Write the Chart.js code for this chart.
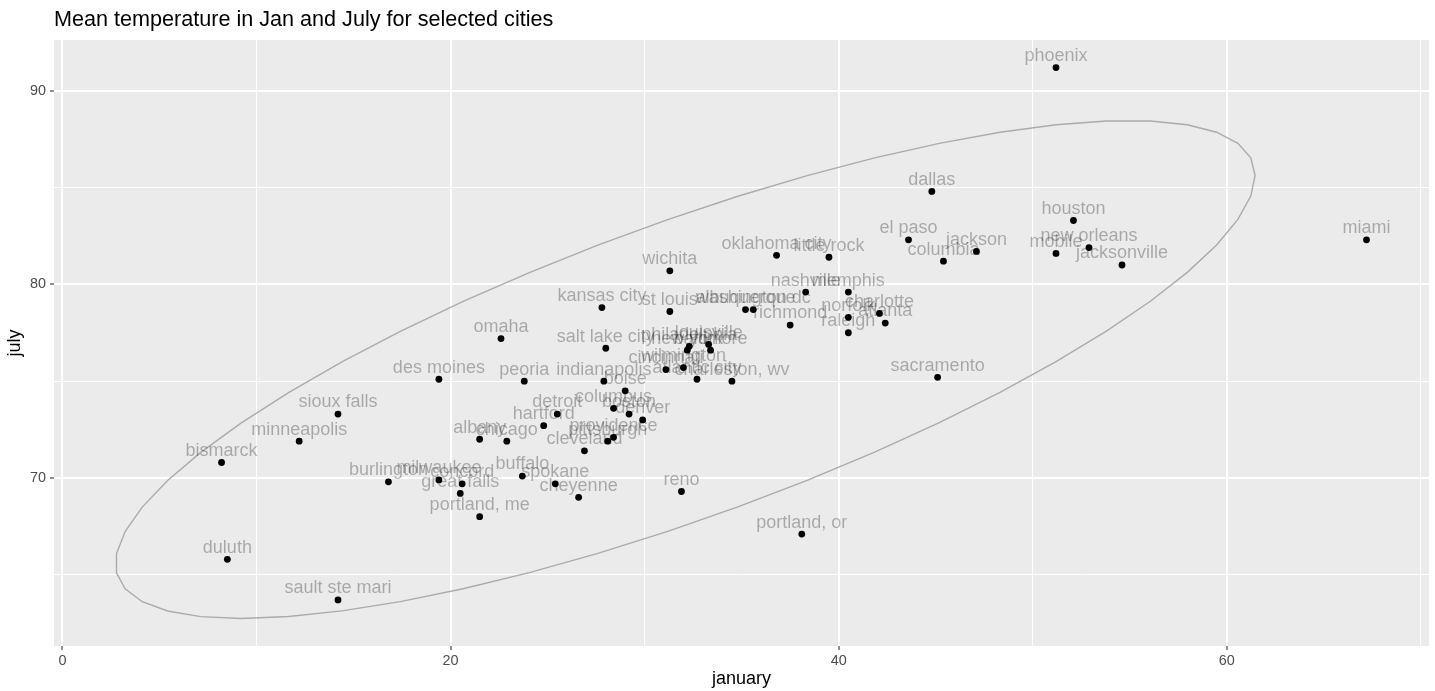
<!DOCTYPE html>
<html>
<head>
<meta charset="utf-8">
<script src="https://cdn.jsdelivr.net/npm/chart.js@4.4.0/dist/chart.umd.min.js"></script>
<style>
  html, body { margin: 0; padding: 0; background: #fff; }
  #wrap { width: 1435px; height: 691px; }
</style>
</head>
<body>
<div id="wrap"><canvas id="chart" width="1435" height="691"></canvas></div>
<script>
// City names and mean temperatures
const cities = [
  'phoenix', 'dallas', 'houston', 'miami', 'el paso', 'jackson', 'columbia', 'mobile',
  'new orleans', 'jacksonville', 'oklahoma city', 'little rock', 'wichita', 'nashville',
  'memphis', 'charlotte', 'atlanta', 'norfolk', 'raleigh', 'richmond', 'washington dc',
  'albuquerque', 'st louis', 'kansas city', 'salt lake city', 'omaha', 'des moines',
  'peoria', 'indianapolis', 'boise', 'columbus', 'boston', 'denver', 'detroit', 'hartford',
  'albany', 'chicago', 'providence', 'pittsburgh', 'cleveland', 'burlington', 'milwaukee',
  'concord', 'great falls', 'portland, me', 'bismarck', 'minneapolis', 'sioux falls',
  'duluth', 'sault ste mari', 'buffalo', 'spokane', 'cheyenne', 'reno', 'portland, or',
  'sacramento', 'charleston, wv', 'philadelphia', 'new york', 'louisville', 'baltimore',
  'wilmington', 'cincinnati', 'atlantic city'
];
const january = [
  51.2, 44.8, 52.1, 67.2, 43.6, 47.1, 45.4, 51.2,
  52.9, 54.6, 36.8, 39.5, 31.3, 38.3,
  40.5, 42.1, 42.4, 40.5, 40.5, 37.5, 35.6,
  35.2, 31.3, 27.8, 28.0, 22.6, 19.4,
  23.8, 27.9, 29.0, 28.4, 29.2, 29.9, 25.5, 24.8,
  21.5, 22.9, 28.4, 28.1, 26.9, 16.8, 19.4,
  20.6, 20.5, 21.5, 8.2, 12.2, 14.2,
  8.5, 14.2, 23.7, 25.4, 26.6, 31.9, 38.1,
  45.1, 34.5, 32.3, 32.2, 33.3, 33.4,
  32.0, 31.1, 32.7
];
const july = [
  91.2, 84.8, 83.3, 82.3, 82.3, 81.7, 81.2, 81.6,
  81.9, 81.0, 81.5, 81.4, 80.7, 79.6,
  79.6, 78.5, 78.0, 78.3, 77.5, 77.9, 78.7,
  78.7, 78.6, 78.8, 76.7, 77.2, 75.1,
  75.0, 75.0, 74.5, 73.6, 73.3, 73.0, 73.3, 72.7,
  72.0, 71.9, 72.1, 71.9, 71.4, 69.8, 69.9,
  69.7, 69.2, 68.0, 70.8, 71.9, 73.3,
  65.8, 63.7, 70.1, 69.7, 69.0, 69.3, 67.1,
  75.2, 75.0, 76.8, 76.6, 76.9, 76.6,
  75.7, 75.6, 75.1
];

// Axis breaks
const xTicks = [0, 20, 40, 60];
const xMinor = [10, 30, 50, 70];
const yTicks = [70, 80, 90];
const yMinor = [65, 75, 85];

const FONT = '"Liberation Sans", Arial, Helvetica, sans-serif';

/**
 * Mean and unbiased covariance of two columns
 */
function covNorm(xs, ys) {
  const n = xs.length;
  const mx = xs.reduce((a, b) => a + b, 0) / n;
  const my = ys.reduce((a, b) => a + b, 0) / n;
  let a = 0, b = 0, c = 0;
  xs.forEach((x, i) => {
    const dx = x - mx, dy = ys[i] - my;
    a += dx * dx;
    b += dx * dy;
    c += dy * dy;
  });
  return { center: [mx, my], cov: [[a / (n - 1), b / (n - 1)], [b / (n - 1), c / (n - 1)]] };
}

/**
 * 95% normal data ellipse like ggplot2::stat_ellipse(type = "norm"), 51 segments
 */
function dataEllipse(xs, ys, level, segments) {
  const { center, cov } = covNorm(xs, ys);
  const dfd = xs.length - 1;
  // F(2, dfd) quantile has a closed form
  const qf = dfd / 2 * (Math.pow(1 - level, -2 / dfd) - 1);
  const radius = Math.sqrt(2 * qf);
  const r11 = Math.sqrt(cov[0][0]);
  const r12 = cov[0][1] / r11;
  const r22 = Math.sqrt(cov[1][1] - r12 * r12);
  const pts = [];
  for (let k = 0; k <= segments; k++) {
    const t = k * 2 * Math.PI / segments;
    const cx = Math.cos(t), sy = Math.sin(t);
    pts.push({
      x: center[0] + radius * cx * r11,
      y: center[1] + radius * (cx * r12 + sy * r22)
    });
  }
  return pts;
}

const cityPoints = january.map((x, i) => ({ x, y: july[i] }));
const ellipsePoints = dataEllipse(january, july, 0.95, 51);

// Scale limits: data + ellipse, expanded 5% like ggplot
function limits(vals) {
  const lo = Math.min(...vals), hi = Math.max(...vals);
  const pad = (hi - lo) * 0.05;
  return [lo - pad, hi + pad];
}
const xLim = limits(january.concat(ellipsePoints.map(p => p.x)));
const yLim = limits(july.concat(ellipsePoints.map(p => p.y)));

const panelPlugin = {
  id: 'panel',
  beforeDraw(chart) {
    const { ctx, chartArea: a } = chart;
    ctx.save();
    ctx.fillStyle = '#fff';
    ctx.fillRect(0, 0, chart.width, chart.height);
    ctx.fillStyle = '#EBEBEB';
    ctx.fillRect(a.left, a.top, a.right - a.left, a.bottom - a.top);
    ctx.fillStyle = '#000';
    ctx.font = '21.6px ' + FONT;
    ctx.textAlign = 'left';
    ctx.textBaseline = 'alphabetic';
    ctx.fillText('Mean temperature in Jan and July for selected cities', a.left, 26);
    ctx.restore();
  }
};

const labelPlugin = {
  id: 'cityLabels',
  afterDatasetsDraw(chart) {
    const meta = chart.getDatasetMeta(1);
    const ctx = chart.ctx;
    ctx.save();
    ctx.font = '18px ' + FONT;
    ctx.fillStyle = 'rgba(0, 0, 0, 0.29)';
    ctx.textAlign = 'center';
    ctx.textBaseline = 'alphabetic';
    meta.data.forEach((pt, i) => {
      ctx.fillText(cities[i], pt.x, pt.y - 6.6);
    });
    ctx.restore();
  }
};

function axisTicks(major, minor) {
  return axis => {
    axis.ticks = major.concat(minor)
      .filter(v => v >= axis.min && v <= axis.max)
      .sort((a, b) => a - b)
      .map(v => ({ value: v }));
  };
}

function gridStyle(major) {
  return {
    color: '#FFFFFF',
    lineWidth: c => (c.tick && major.includes(c.tick.value)) ? 2 : 1,
    tickColor: c => (c.tick && major.includes(c.tick.value)) ? '#333333' : 'rgba(0,0,0,0)',
    tickLength: 4,
    tickWidth: 1.1,
    drawTicks: true
  };
}

const ctx = document.getElementById('chart').getContext('2d');
new Chart(ctx, {
  type: 'scatter',
  data: {
    datasets: [
      {
        label: 'ellipse',
        data: ellipsePoints,
        showLine: true,
        borderColor: '#ABABAB',
        borderWidth: 1.4,
        pointRadius: 0,
        fill: false,
        tension: 0
      },
      {
        label: 'cities',
        data: cityPoints,
        backgroundColor: '#000000',
        borderWidth: 0,
        pointRadius: 3.4,
        pointHoverRadius: 3.4
      }
    ]
  },
  options: {
    responsive: false,
    animation: false,
    devicePixelRatio: 1,
    layout: { padding: { top: 40, right: 6, left: 0, bottom: 0 } },
    plugins: {
      legend: { display: false },
      tooltip: { enabled: false },
      title: { display: false }
    },
    scales: {
      x: {
        type: 'linear',
        min: xLim[0],
        max: xLim[1],
        afterBuildTicks: axisTicks(xTicks, xMinor),
        afterFit: s => { s.height = 45; },
        border: { display: false },
        grid: gridStyle(xTicks),
        ticks: {
          autoSkip: false,
          maxRotation: 0,
          padding: 2,
          color: '#4D4D4D',
          font: { family: FONT, size: 14.4 },
          callback: v => xTicks.includes(v) ? String(v) : ''
        },
        title: {
          display: true,
          text: 'january',
          color: '#000',
          font: { family: FONT, size: 18 },
          padding: { top: 0, bottom: 1 }
        }
      },
      y: {
        type: 'linear',
        min: yLim[0],
        max: yLim[1],
        afterBuildTicks: axisTicks(yTicks, yMinor),
        afterFit: s => { s.width = 54; },
        border: { display: false },
        grid: gridStyle(yTicks),
        ticks: {
          autoSkip: false,
          padding: 4,
          color: '#4D4D4D',
          font: { family: FONT, size: 14.4 },
          callback: v => yTicks.includes(v) ? String(v) : ''
        },
        title: {
          display: true,
          text: 'july',
          color: '#000',
          font: { family: FONT, size: 18 },
          padding: { top: 4, bottom: 0 }
        }
      }
    }
  },
  plugins: [panelPlugin, labelPlugin]
});
</script>
</body>
</html>
